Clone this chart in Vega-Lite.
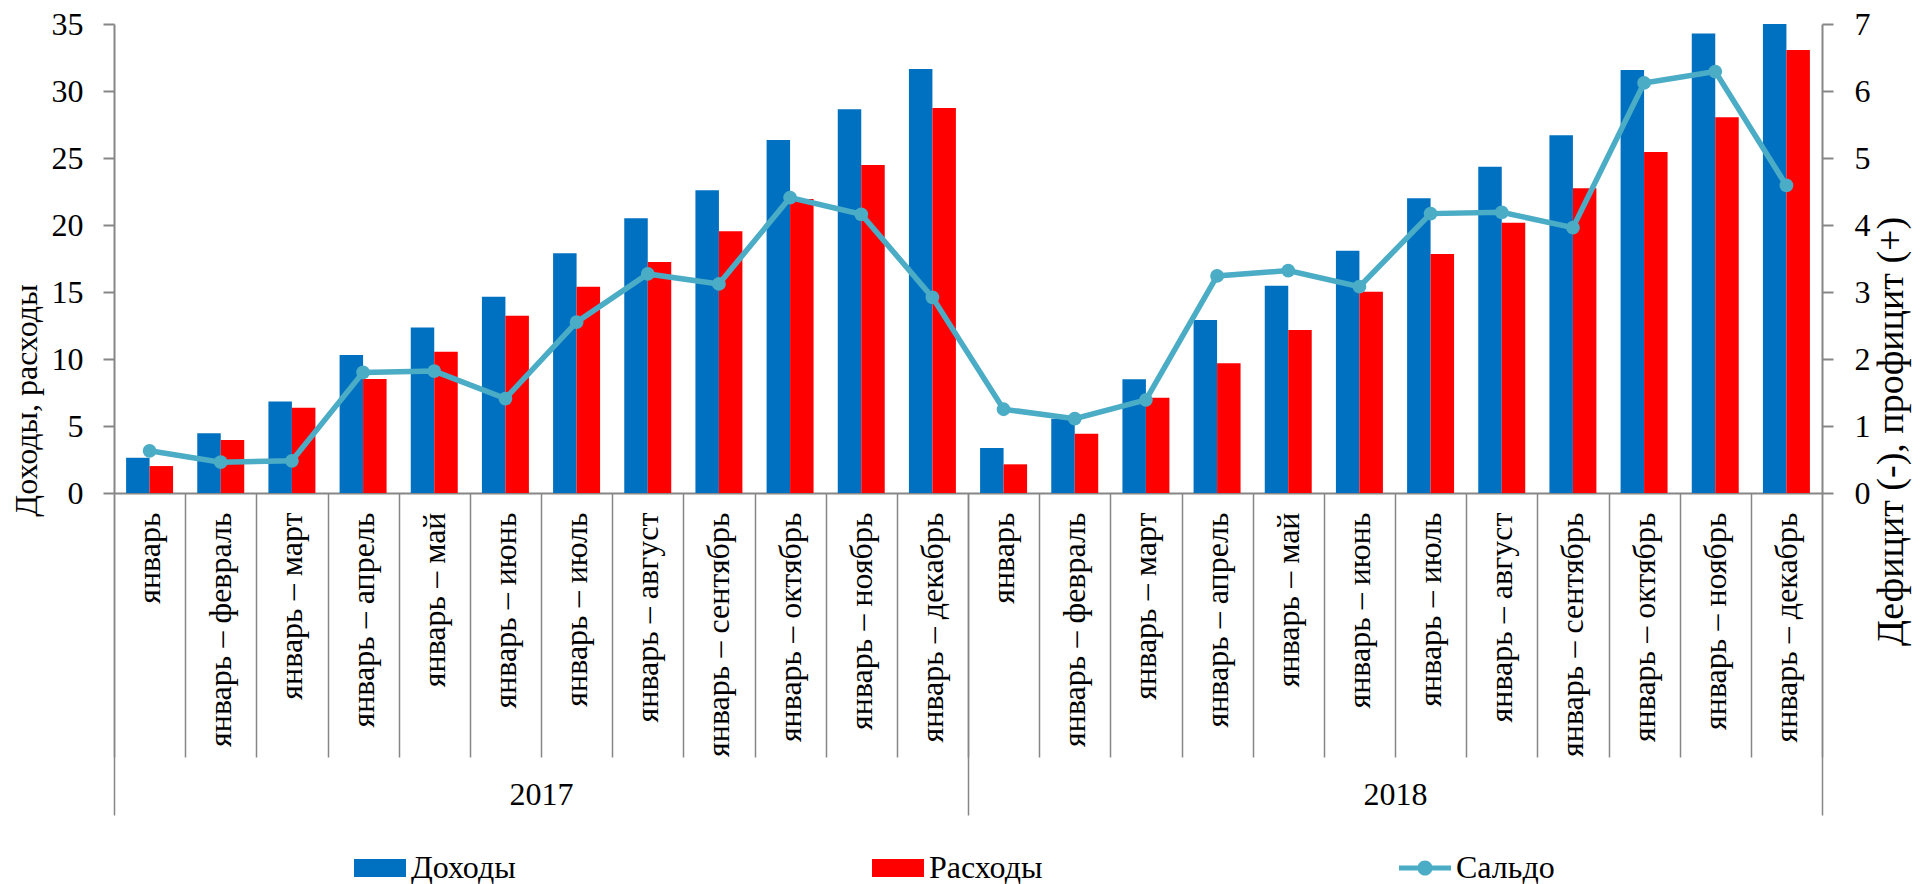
{
  "$schema": "https://vega.github.io/schema/vega-lite/v6.json",
  "width": 1708,
  "height": 469,
  "autosize": {"type": "none"},
  "padding": {"left": 114, "top": 24, "right": 104, "bottom": 391},
  "config": {
    "view": {"stroke": null},
    "font": "Liberation Serif, Times New Roman, DejaVu Serif, serif",
    "axis": {"labelFont": "Liberation Serif, Times New Roman, DejaVu Serif, serif", "titleFont": "Liberation Serif, Times New Roman, DejaVu Serif, serif", "grid": false},
    "legend": {"labelFont": "Liberation Serif, Times New Roman, DejaVu Serif, serif"}
  },
  "data": {
    "values": [
      {"cat": "2017 январь", "Доходы": 2.63, "Расходы": 2.01, "Сальдо": 0.63},
      {"cat": "2017 январь – февраль", "Доходы": 4.45, "Расходы": 3.96, "Сальдо": 0.46},
      {"cat": "2017 январь – март", "Доходы": 6.82, "Расходы": 6.37, "Сальдо": 0.48},
      {"cat": "2017 январь – апрель", "Доходы": 10.30, "Расходы": 8.50, "Сальдо": 1.80},
      {"cat": "2017 январь – май", "Доходы": 12.36, "Расходы": 10.55, "Сальдо": 1.82},
      {"cat": "2017 январь – июнь", "Доходы": 14.65, "Расходы": 13.23, "Сальдо": 1.41},
      {"cat": "2017 январь – июль", "Доходы": 17.89, "Расходы": 15.40, "Сальдо": 2.55},
      {"cat": "2017 январь – август", "Доходы": 20.50, "Расходы": 17.24, "Сальдо": 3.27},
      {"cat": "2017 январь – сентябрь", "Доходы": 22.60, "Расходы": 19.53, "Сальдо": 3.12},
      {"cat": "2017 январь – октябрь", "Доходы": 26.34, "Расходы": 21.94, "Сальдо": 4.41},
      {"cat": "2017 январь – ноябрь", "Доходы": 28.63, "Расходы": 24.48, "Сальдо": 4.16},
      {"cat": "2017 январь – декабрь", "Доходы": 31.64, "Расходы": 28.73, "Сальдо": 2.92},
      {"cat": "2018 январь", "Доходы": 3.36, "Расходы": 2.14, "Сальдо": 1.25},
      {"cat": "2018 январь – февраль", "Доходы": 5.54, "Расходы": 4.43, "Сальдо": 1.11},
      {"cat": "2018 январь – март", "Доходы": 8.48, "Расходы": 7.11, "Сальдо": 1.39},
      {"cat": "2018 январь – апрель", "Доходы": 12.91, "Расходы": 9.68, "Сальдо": 3.24},
      {"cat": "2018 январь – май", "Доходы": 15.47, "Расходы": 12.16, "Сальдо": 3.32},
      {"cat": "2018 январь – июнь", "Доходы": 18.08, "Расходы": 15.02, "Сальдо": 3.08},
      {"cat": "2018 январь – июль", "Доходы": 21.99, "Расходы": 17.84, "Сальдо": 4.17},
      {"cat": "2018 январь – август", "Доходы": 24.35, "Расходы": 20.17, "Сальдо": 4.19},
      {"cat": "2018 январь – сентябрь", "Доходы": 26.69, "Расходы": 22.74, "Сальдо": 3.96},
      {"cat": "2018 январь – октябрь", "Доходы": 31.57, "Расходы": 25.45, "Сальдо": 6.12},
      {"cat": "2018 январь – ноябрь", "Доходы": 34.30, "Расходы": 28.04, "Сальдо": 6.29},
      {"cat": "2018 январь – декабрь", "Доходы": 37.65, "Расходы": 33.06, "Сальдо": 4.59}
    ]
  },
  "layer": [
    {
      "transform": [{"fold": ["Доходы", "Расходы"], "as": ["series", "value"]}],
      "mark": {"type": "bar"},
      "encoding": {
        "x": {
          "field": "cat", "type": "nominal", "sort": null,
          "scale": {"paddingInner": 0, "paddingOuter": 0},
          "axis": {
            "orient": "bottom", "title": null,
            "labelExpr": "slice(datum.label, 5)",
            "labelAngle": -90, "labelFontSize": 32, "labelColor": "black",
            "labelPadding": -245, "labelLimit": 500,
            "tickBand": "extent", "tickSize": 264, "tickColor": "#868686", "tickWidth": 1.5,
            "domainColor": "#868686", "domainWidth": 2
          }
        },
        "xOffset": {
          "field": "series", "type": "nominal", "sort": ["Доходы", "Расходы"],
          "scale": {"paddingInner": 0, "paddingOuter": 0.515}
        },
        "y": {
          "field": "value", "type": "quantitative",
          "scale": {"domain": [0, 35], "clamp": true, "nice": false, "zero": true},
          "axis": {
            "orient": "left", "values": [0, 5, 10, 15, 20, 25, 30, 35],
            "title": "Доходы, расходы", "titleFontSize": 32, "titleFontWeight": "normal", "titleColor": "black",
            "titleAngle": 270, "titleY": 376, "titlePadding": 8,
            "labelFontSize": 32, "labelColor": "black", "labelPadding": 20,
            "tickSize": 11, "tickColor": "#868686", "tickWidth": 2,
            "domainColor": "#868686", "domainWidth": 2
          }
        },
        "color": {
          "field": "series", "type": "nominal",
          "scale": {"domain": ["Доходы", "Расходы", "Сальдо"], "range": ["#0070C0", "#FF0000", "#4BACC6"]},
          "legend": {
            "orient": "none", "legendX": 240, "legendY": 818,
            "direction": "horizontal", "columns": 3, "columnPadding": 356,
            "title": null, "labelFontSize": 32, "labelColor": "black",
            "symbolSize": 2704, "labelOffset": 5,
            "encode": {
              "symbols": {
                "update": {
                  "shape": {"signal": "datum.value === 'Сальдо' ? 'M-1,-0.1L1,-0.1L1,0.1L-1,0.1Z M0.29,0A0.29,0.29 0 1,1 -0.29,0A0.29,0.29 0 1,1 0.29,0Z' : 'M-1,-0.346L1,-0.346L1,0.346L-1,0.346Z'"},
                  "fill": {"scale": "color", "field": "value"},
                  "strokeWidth": {"value": 0},
                  "opacity": {"value": 1},
                  "fillOpacity": {"value": 1}
                }
              }
            }
          }
        }
      }
    },
    {
      "mark": {"type": "line", "strokeWidth": 5.5, "point": {"filled": true, "size": 190}},
      "encoding": {
        "x": {
          "field": "cat", "type": "nominal", "sort": null,
          "axis": {
            "orient": "bottom", "title": null, "domain": false,
            "tickBand": "extent", "tickSize": 322, "tickColor": "#868686", "tickWidth": 1.5,
            "tickOpacity": {"condition": {"test": "!isValid(datum.value) || datum.value === '2017 январь – декабрь' || datum.value === '2018 январь – декабрь'", "value": 1}, "value": 0},
            "labelExpr": "datum.value === '2017 январь – июнь' ? '2017' : datum.value === '2018 январь – июнь' ? '2018' : ''",
            "labelAngle": 0, "labelOffset": 35.58, "labelPadding": -36,
            "labelFontSize": 32, "labelColor": "black"
          }
        },
        "y": {
          "field": "Сальдо", "type": "quantitative",
          "scale": {"domain": [0, 7], "nice": false},
          "axis": {
            "orient": "right", "values": [0, 1, 2, 3, 4, 5, 6, 7],
            "title": "Дефицит (-), профицит (+)", "titleFontSize": 38, "titleFontWeight": "normal", "titleColor": "black",
            "titleAngle": 270, "titleBaseline": "top", "titleY": 407, "titlePadding": 2,
            "labelFontSize": 32, "labelColor": "black", "labelPadding": 21,
            "tickSize": 11, "tickColor": "#868686", "tickWidth": 2,
            "domainColor": "#868686", "domainWidth": 2
          }
        },
        "color": {"datum": "Сальдо"}
      }
    }
  ],
  "resolve": {"scale": {"y": "independent"}, "axis": {"x": "independent", "y": "independent"}}
}
